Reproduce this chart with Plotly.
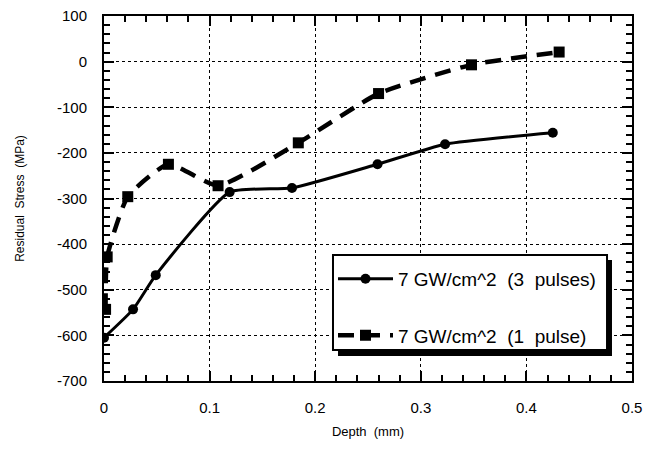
import plotly.graph_objects as go

depth_3p = [0.0, 0.0275, 0.049, 0.119, 0.178, 0.259, 0.323, 0.425]
stress_3p = [-605, -543, -468, -286, -277, -225, -181, -156]

depth_1p = [0.0015, 0.003, 0.0225, 0.061, 0.108, 0.184, 0.260, 0.348, 0.431]
stress_1p = [-543, -428, -296, -225, -272, -178, -70, -7, 21]

name_3p = "7 GW/cm^2\u00a0 (3\u00a0 pulses)"
name_1p = "7 GW/cm^2\u00a0 (1\u00a0 pulse)"

x_ticks = [0, 0.1, 0.2, 0.3, 0.4, 0.5]
x_labels = ["0", "0.1", "0.2", "0.3", "0.4", "0.5"]
y_ticks = [100, 0, -100, -200, -300, -400, -500, -600, -700]
y_labels = ["100", "0", "-100", "-200", "-300", "-400", "-500", "-600", "-700"]

FONT = "Liberation Sans, Arial, Helvetica, sans-serif"

fig = go.Figure()
fig.add_trace(go.Scatter(
    x=depth_3p, y=stress_3p, name=name_3p, mode="lines+markers",
    line=dict(color="black", width=3, shape="spline", smoothing=0.5),
    marker=dict(symbol="circle", size=10, color="black"),
    legendgroup="a",
))
fig.add_trace(go.Scatter(
    x=depth_1p, y=stress_1p, name=name_1p, mode="lines+markers",
    line=dict(color="black", width=4.5, dash="16px,10px", shape="spline", smoothing=0.5),
    marker=dict(symbol="square", size=11, color="black"),
    legendgroup="b",
))

axis_common = dict(
    showline=True, linecolor="black", linewidth=2, mirror="allticks",
    ticks="inside", tickcolor="black", tickwidth=2, ticklen=10,
    showgrid=True, gridcolor="black", gridwidth=1, griddash="dot",
    zeroline=False, automargin=False, ticklabeloverflow="allow",
    tickfont=dict(family=FONT, size=15, color="black"),
)

fig.update_xaxes(
    range=[0, 0.5], tickmode="array", tickvals=x_ticks, ticktext=x_labels,
    minor=dict(tickmode="linear", tick0=0, dtick=0.02, ticks="inside", ticklen=6,
               tickcolor="black", tickwidth=2, showgrid=False),
    title=dict(text="Depth\u00a0 (mm)", font=dict(family=FONT, size=13, color="black"), standoff=12),
    ticklabelstandoff=12,
    **axis_common,
)
fig.update_yaxes(
    range=[-700, 100], tickmode="array", tickvals=y_ticks, ticktext=y_labels,
    minor=dict(tickmode="linear", tick0=0, dtick=20, ticks="inside", ticklen=6,
               tickcolor="black", tickwidth=2, showgrid=False),
    title=dict(text="Residual\u00a0 Stress\u00a0 (MPa)", font=dict(family=FONT, size=12, color="black"), standoff=30),
    ticklabelstandoff=12,
    **axis_common,
)

# legend frame with drop shadow
fig.add_shape(type="rect", xref="paper", yref="paper",
              x0=0.4432, x1=0.9621, y0=0.0685, y1=0.3315,
              fillcolor="black", line=dict(width=0), layer="above")
fig.add_shape(type="rect", xref="paper", yref="paper",
              x0=0.4337, x1=0.9527, y0=0.0849, y1=0.3452,
              fillcolor="white", line=dict(color="black", width=2), layer="above")

# page body has an 8px margin: size the figure so the plot area lands where the reference has it
fig.update_layout(
    width=654, height=441,
    margin=dict(l=96, r=30, t=8, b=68),
    paper_bgcolor="white", plot_bgcolor="white",
    showlegend=True,
    legend=dict(
        x=(333 - 104) / 528, y=0.332, xanchor="left", yanchor="top",
        bgcolor="rgba(0,0,0,0)", borderwidth=0,
        font=dict(family=FONT, size=19, color="black"),
        tracegroupgap=29, itemwidth=55,
    ),
)

fig.write_html("out.html")
